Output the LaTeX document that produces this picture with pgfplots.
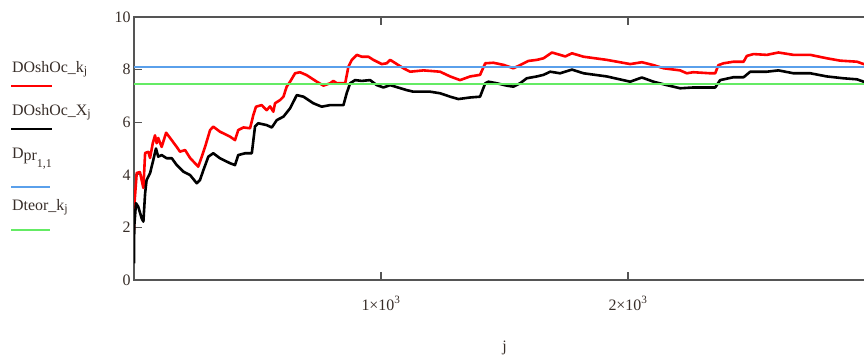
\documentclass[border=0pt]{standalone}
\usepackage{fontspec}
\setmainfont{Liberation Serif}
\usepackage{pgfplots}
\pgfplotsset{compat=1.18}
\definecolor{txt}{RGB}{55,45,40}
\definecolor{axc}{RGB}{85,85,85}
\definecolor{bl}{RGB}{90,160,235}
\definecolor{gr}{RGB}{100,235,100}
\begin{document}
\begin{tikzpicture}[x=1bp,y=1bp]
\path[use as bounding box] (0,0) rectangle (864,356);
\begin{axis}[
  at={(134bp,76bp)}, anchor=south west,
  scale only axis, width=741bp, height=263bp,
  xmin=0, xmax=3000, ymin=0, ymax=10,
  xtick={1000,2000},
  xticklabels={1×10\textsuperscript{3},2×10\textsuperscript{3}},
  ytick={0,2,4,6,8,10},
  tick align=inside, major tick length=8bp,
  axis line style={axc, line width=1.3bp},
  tick style={axc, line width=1.3bp},
  ticklabel style={font=\fontsize{16}{18}\selectfont, text=txt},
  xticklabel style={yshift=-13bp},
  /pgf/number format/assume math mode=true,
  xlabel={j},
  xlabel style={font=\fontsize{16}{18}\selectfont, text=txt, yshift=-24bp},
]
\addplot[red, line width=2.6bp, line join=round] coordinates {
(0,1.90) (2,2.93) (11,4.07) (24,4.10) (31,3.80) (38,3.50) (45,4.83) (58,4.87) (65,4.64)
(76,5.20) (85,5.50) (92,5.20) (98,5.40) (112,5.06) (130,5.60) (146,5.40) (173,5.06)
(186,4.88) (207,4.94) (227,4.64) (260,4.31) (274,4.68) (288,5.07) (308,5.70) (321,5.83)
(348,5.64) (389,5.45) (409,5.32) (422,5.70) (443,5.80) (470,5.77) (483,6.27) (494,6.59)
(517,6.65) (537,6.46) (551,6.60) (564,6.40) (571,6.72) (591,6.84) (605,6.97) (618,7.35)
(632,7.54) (652,7.86) (672,7.90) (699,7.79) (740,7.54) (767,7.39) (794,7.48) (807,7.57)
(821,7.48) (855,7.48) (868,8.11) (882,8.37) (902,8.56) (922,8.49) (949,8.49) (969,8.37)
(1003,8.21) (1023,8.24) (1037,8.37) (1091,8.05) (1118,7.92) (1172,7.97) (1239,7.92)
(1280,7.74) (1320,7.60) (1361,7.74) (1401,7.80) (1422,8.24) (1455,8.26) (1496,8.18)
(1536,8.05) (1563,8.17) (1597,8.33) (1631,8.37) (1658,8.43) (1692,8.65) (1725,8.56)
(1746,8.50) (1773,8.62) (1820,8.49) (1914,8.37) (2009,8.21) (2056,8.28) (2103,8.17)
(2144,8.05) (2211,7.97) (2238,7.86) (2264,7.90) (2333,7.86) (2353,7.86) (2366,8.17)
(2387,8.24) (2427,8.30) (2468,8.30) (2481,8.52) (2508,8.59) (2562,8.56) (2609,8.65)
(2670,8.56) (2738,8.56) (2805,8.43) (2859,8.34) (2927,8.30) (2954,8.21) (3000,8.15)
};
\addplot[black, line width=2.6bp, line join=round] coordinates {
(0,0.63) (1,2.03) (8,2.92) (17,2.79) (31,2.35) (38,2.22) (45,3.30) (51,3.80) (65,4.06)
(78,4.56) (89,5.00) (98,4.69) (112,4.75) (132,4.63) (153,4.63) (173,4.37) (200,4.12)
(227,3.99) (254,3.68) (267,3.80) (281,4.18) (301,4.69) (321,4.82) (348,4.63) (389,4.44)
(409,4.37) (422,4.75) (450,4.82) (477,4.82) (490,5.84) (503,5.96) (537,5.89) (558,5.80)
(578,6.08) (605,6.21) (632,6.53) (659,7.03) (686,6.97) (726,6.72) (760,6.59) (794,6.65)
(848,6.65) (861,7.10) (875,7.48) (895,7.60) (922,7.57) (956,7.60) (983,7.41) (1010,7.32)
(1037,7.41) (1104,7.22) (1131,7.16) (1199,7.16) (1239,7.10) (1280,6.97) (1313,6.88)
(1361,6.94) (1401,6.97) (1422,7.48) (1435,7.54) (1469,7.48) (1509,7.39) (1536,7.35)
(1563,7.48) (1590,7.67) (1631,7.74) (1658,7.80) (1685,7.92) (1725,7.86) (1773,8.00)
(1820,7.86) (1914,7.74) (2009,7.54) (2056,7.70) (2103,7.54) (2157,7.41) (2211,7.29)
(2264,7.32) (2333,7.32) (2353,7.32) (2373,7.60) (2427,7.71) (2468,7.71) (2495,7.92)
(2562,7.92) (2609,7.97) (2670,7.86) (2738,7.86) (2805,7.74) (2872,7.67) (2927,7.63)
(2954,7.54) (3000,7.50)
};
\addplot[bl, line width=1.6bp] coordinates {(0,8.11) (3000,8.11)};
\addplot[gr, line width=2bp] coordinates {(0,7.47) (3000,7.47)};
\end{axis}
% legend
\begin{scope}[font=\fontsize{16}{18}\selectfont, text=txt]
\node[anchor=base west, inner sep=0] at (12,284) {DOshOc\_k\raisebox{-0.35ex}{\fontsize{12}{14}\selectfont j}};
\draw[red, line width=2.6bp] (11,270) -- (52,270);
\node[anchor=base west, inner sep=0] at (12,241) {DOshOc\_X\raisebox{-0.35ex}{\fontsize{12}{14}\selectfont j}};
\draw[black, line width=2.6bp] (11,227) -- (52,227);
\node[anchor=base west, inner sep=0] at (12,198) {D\raisebox{-0.4ex}{pr}\raisebox{-1.3ex}{\fontsize{12}{14}\selectfont 1,1}};
\draw[bl, line width=1.6bp] (11,169) -- (50,169);
\node[anchor=base west, inner sep=0] at (12,146) {Dteor\_k\raisebox{-0.35ex}{\fontsize{12}{14}\selectfont j}};
\draw[gr, line width=2bp] (11,126) -- (50,126);
\end{scope}
\end{tikzpicture}
\end{document}
